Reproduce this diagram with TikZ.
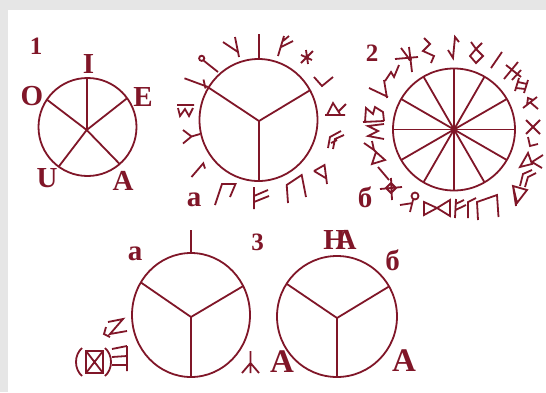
\documentclass[tikz,border=0pt]{standalone}
\usepackage{fontspec}
\setmainfont{Liberation Serif}
\usetikzlibrary{shapes.geometric}
\definecolor{rune}{RGB}{128,22,40}
\definecolor{framegray}{RGB}{230,230,230}
\begin{document}
\begin{tikzpicture}[x=1pt,y=-1pt,
  ln/.style={draw=rune,line width=1.8pt},
  ring/.style={ellipse,draw=rune,line width=1.8pt,inner sep=0pt,outer sep=0pt},
  lab/.style={text=rune,font=\bfseries\fontsize{29}{29}\selectfont,inner sep=0pt},
  big/.style={text=rune,font=\bfseries\fontsize{33}{33}\selectfont,inner sep=0pt},
  num/.style={text=rune,font=\bfseries\fontsize{25}{25}\selectfont,inner sep=0pt},
]
\fill[framegray] (0,0) rectangle (546,392);
\fill[white] (8,10) rectangle (546,392);
\useasboundingbox (0,0) rectangle (546,392);

% ---------- figure 1 ----------
\node[ring,minimum width=98pt,minimum height=98pt] (c1) at (87.5,127) {};
\coordinate (o1) at (86.7,130);
\draw[ln] (o1) -- (o1 |- c1.north);
\draw[ln] (c1.146) -- (o1) -- (c1.311);
\draw[ln] (c1.36) -- (o1) -- (c1.234);
\node[num] (n1) at (36,46.5) {1};
\node[lab] (lI) at (88.5,64) {I};
\node[lab] (lO) at (32,96) {O};
\node[lab] (lE) at (143,97) {E};
\node[lab] (lU) at (47,178) {U};
\node[lab] (lA) at (123,181) {A};

% ---------- figure 2a ----------
\node[ring,minimum width=118pt,minimum height=122pt] (c2a) at (258.5,120) {};
\coordinate (y2a) at (259,121);
\draw[ln] (c2a.147) -- (y2a) -- (c2a.30);
\draw[ln] (y2a) -- (y2a |- c2a.south);
\coordinate (t2a) at (259,34);
\draw[ln] (t2a) -- (t2a |- c2a.north);
\node[lab] (la2a) at (194,200) {а};
% runes around 2a
\draw[ln] (223,42) -- (238,52) (235,37) -- (239,57);
\draw[ln] (201.7,58.3) circle (2.6pt) (203.5,60.5) -- (218,72);
\draw[ln] (284,36) -- (278,56) (281,47) -- (293,41) (283,41) -- (289,36);
\draw[ln] (301,63) -- (313,51) (306,50) -- (308,64) (301,55) -- (312,60);
\fill[rune] (307,57) circle (2pt);
\draw[ln] (314,77) -- (322,86) -- (333,77);
\draw[ln] (325,115) -- (345,115) (327,115) -- (333,103) -- (340,114) (338,112) -- (346,104);
\draw[ln] (328,148) -- (330,137) -- (341,131) (333,149) -- (335,139) -- (344,135) (331,143) -- (337,140);
\draw[ln] (314,171) -- (324.5,165) -- (327,184) (314,171) -- (325.6,178);
\draw[ln] (288,203) -- (286.7,185) -- (301.7,175) -- (306,197);
\draw[ln] (254,187) -- (254,209) (254,196) -- (268,190) (254,202) -- (269,196);
\draw[ln] (215,205) -- (222,184) -- (235.5,184) -- (230,197);
\draw[ln] (191.5,177) -- (203.3,163.3) -- (205,168.5);
\draw[ln] (183,130) -- (191.5,136.5) -- (183,143.5) (191.5,136.5) -- (200,134);
\draw[ln] (177,105) -- (194,105) (178,108) -- (180,116) -- (185,109) -- (189,116) -- (193,108);
\draw[ln] (184.5,78.3) -- (208,87) (203.5,79.5) -- (205.5,88.5);

% ---------- figure 2b ----------
\node[circle,draw=rune,line width=1.8pt,minimum size=122pt,inner sep=0pt] (c2b) at (454,129.5) {};
\foreach \a in {0,30,...,150} \draw[ln] (c2b.center) ++(\a:61) -- ++(\a+180:122);
\fill[rune] (c2b.center) circle (2.8pt);
\node[num] (n2) at (372,53.5) {2};
\node[lab] (lb2b) at (365,197) {б};
% top / right
\draw[ln] (448,50) -- (453,58) -- (455,37) -- (459,42);
\draw[ln] (470,56) -- (476,49) -- (483,56) -- (476,63) -- cycle (476,49) -- (471,42) (476,49) -- (482,43);
\draw[ln] (491,68) -- (502,52);
\draw[ln] (504,79) -- (518,62) (506,65) -- (521,77) (512,80) -- (521,70);
\draw[ln] (515,91) -- (519,78) (524,93) -- (528,80) (516,88) -- (525,89) (518,82) -- (527,84);
\draw[ln] (523,108) -- (537,97) (527,105) -- (528,98) -- (533,100) (531,103) -- (538,109);
\draw[ln] (526,120) -- (540,134) (526,134) -- (540,120);
\draw[ln] (528,137) -- (530,146) -- (538,144);
\draw[ln] (520,167) -- (528,153) -- (532,164) -- cycle (543,155) -- (532,162) -- (542,168);
\draw[ln] (520,186) -- (523,174) -- (532,170) (525,187) -- (528,177) -- (536,173);
% bottom
\draw[ln] (513,186) -- (527,190) -- (517,203) -- cycle (513,186) -- (516,206);
\draw[ln] (478,220) -- (477,202) -- (497,195) -- (498.5,217);
\draw[ln] (468,218) -- (468,202) -- (476,198);
\draw[ln] (455,218) -- (456,199) (455.5,204) -- (464,200) (455.5,210) -- (466,205);
\draw[ln] (424,202) -- (437,208) -- (424,215) -- cycle (437,208) -- (450,200) -- (450,216) -- cycle;
\draw[ln] (415,196) circle (3.5pt) (413,200) -- (410,212) (400,205) -- (413,203);
\draw[ln] (380,189) -- (402,187) (391,178) -- (392,200) (391,183) -- (396,188) -- (391,193) -- (386,188) -- cycle;
% left
\draw[ln] (378,167) -- (389,180);
\draw[ln] (372,164) -- (376,152) -- (385,160) -- cycle (364,143) -- (374,150) (372,141) -- (374,150) -- (376,152);
\draw[ln] (384,124) -- (368,126) -- (378,131) -- (368,136) -- (384,139);
\draw[ln] (363,122) -- (384,121) (365,122) -- (366,108) -- (373,114) -- (375,107) -- (383,112) -- (384,121);
\draw[ln] (369,88) -- (388,97) (384,80) -- (387,98);
\draw[ln] (385,81) -- (391,72) -- (394,77) -- (399,65);
\draw[ln] (395,59) -- (418,57) (409,47) -- (412,72) (401,48) -- (410,60);
\fill[rune] (410,59) circle (2pt);
\draw[ln] (424,38) -- (430,44) -- (423,51) -- (434,56) -- (431,63);

% ---------- figure 3a ----------
\node[ring,minimum width=118pt,minimum height=124pt] (c3a) at (191,315) {};
\coordinate (y3a) at (191,317);
\draw[ln] (c3a.147) -- (y3a) -- (c3a.29);
\draw[ln] (y3a) -- (y3a |- c3a.south);
\coordinate (t3a) at (191,230);
\draw[ln] (t3a) -- (t3a |- c3a.north);
\node[lab] (la3a) at (135,254) {а};
\node[num] (n3) at (257.5,242.5) {3};
\draw[ln] (250.5,351) -- (250.5,373) (250.5,363) -- (242,373) (250.5,363) -- (259,373);
\node[big] (A3a) at (282,362) {А};
% bottom-left runes
\draw[ln] (82,348) .. controls (74,355) and (74,369) .. (82,376);
\draw[ln] (105,348) .. controls (113,355) and (113,369) .. (105,376);
\draw[ln] (86,351) rectangle (103,373) (86,351) -- (103,373) (86,373) -- (103,351);
\draw[ln] (127,346) -- (127,371) (112,349) -- (127,346) (112,357) -- (127,356) (112,365) -- (127,365);
\draw[ln] (108,322) -- (123,319) -- (110,334) -- (127,331) (106,327) -- (104,334) -- (110,337);

% ---------- figure 3b ----------
\node[ring,minimum width=120pt,minimum height=121pt] (c3b) at (337,316.5) {};
\coordinate (y3b) at (337,318);
\draw[ln] (c3b.147) -- (y3b) -- (c3b.30);
\draw[ln] (y3b) -- (y3b |- c3b.south);
\node[lab] (NA) at (340,240) {Н\kern-0.36emА};
\node[lab] (lb3b) at (392.5,260) {б};
\node[big] (A3b) at (404,361) {А};
\end{tikzpicture}
\end{document}
